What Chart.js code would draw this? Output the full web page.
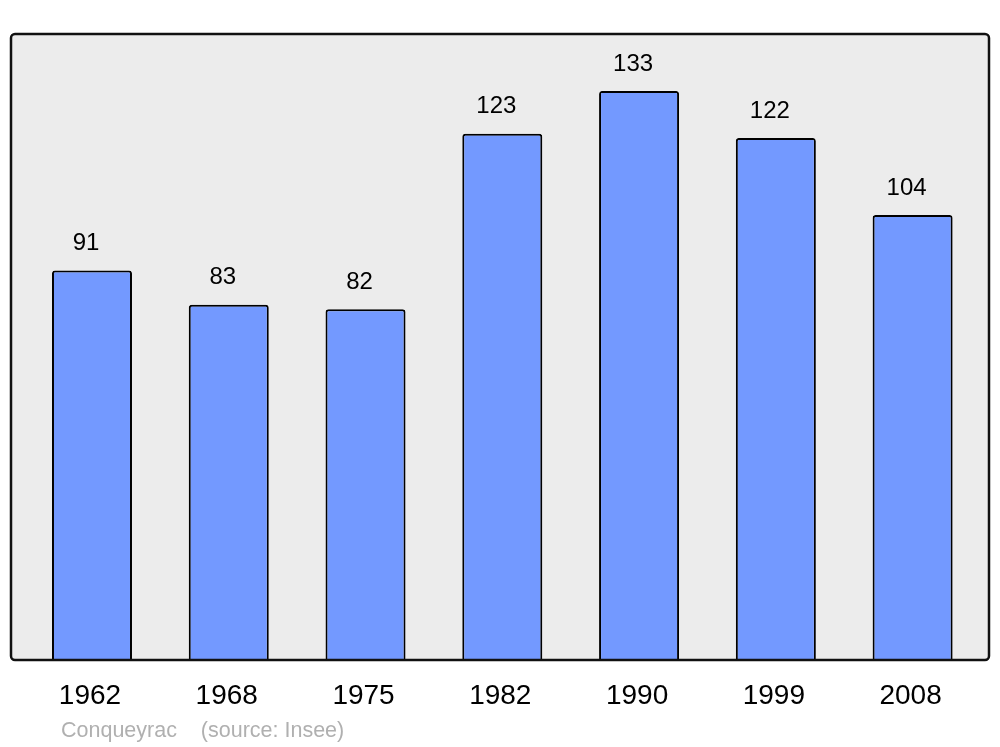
<!DOCTYPE html>
<html>
<head>
<meta charset="utf-8">
<script src="https://cdn.jsdelivr.net/npm/chart.js@4"></script>
<style>
  html, body { margin: 0; padding: 0; background: #fff; }
  #wrap { width: 1000px; height: 747px; }
</style>
</head>
<body>
<div id="wrap"><canvas id="popChart" width="1000" height="747"></canvas></div>
<script>
// ===== Data =====
const years = ["1962", "1968", "1975", "1982", "1990", "1999", "2008"];
const population = [91, 83, 82, 123, 133, 122, 104];
const sourceText = "Conqueyrac    (source: Insee)";

const FONT = "'Liberation Sans', Arial, sans-serif";

// ===== Frame + labels plugin =====
const framePlugin = {
  id: "frame",
  beforeDatasetsDraw(chart) {
    const { ctx, chartArea: a } = chart;
    ctx.save();
    ctx.beginPath();
    ctx.roundRect(a.left - 12.6, a.top, a.right - a.left + 20.6, a.bottom - a.top, 4);
    ctx.fillStyle = "#ececec";
    ctx.fill();
    ctx.restore();
  },
  afterDatasetsDraw(chart) {
    const { ctx, chartArea: a, scales } = chart;
    ctx.save();
    ctx.beginPath();
    ctx.roundRect(a.left - 12.6, a.top, a.right - a.left + 20.6, a.bottom - a.top, 4);
    ctx.lineWidth = 2.5;
    ctx.strokeStyle = "#111";
    ctx.stroke();

    ctx.fillStyle = "#000";
    ctx.textAlign = "center";
    ctx.textBaseline = "middle";

    // value labels above bars
    ctx.font = "24px " + FONT;
    population.forEach((v, i) => {
      const x = scales.x.getPixelForValue(i);
      const y = scales.y.getPixelForValue(v);
      ctx.fillText(String(v), x - 6, y - 27);
    });

    // year labels
    ctx.font = "28px " + FONT;
    years.forEach((yr, i) => {
      ctx.fillText(yr, scales.x.getPixelForValue(i) - 2, a.bottom + 36);
    });

    // source line
    ctx.font = "21.5px " + FONT;
    ctx.fillStyle = "#b0b0b0";
    ctx.textAlign = "left";
    ctx.fillText(sourceText, 61, a.bottom + 71);
    ctx.restore();
  },
};

// ===== Chart =====
new Chart(document.getElementById("popChart").getContext("2d"), {
  type: "bar",
  data: {
    labels: years,
    datasets: [{
      data: population,
      backgroundColor: "#7399ff",
      borderColor: "#000",
      borderWidth: 2,
      borderRadius: 3,
      categoryPercentage: 1,
      barPercentage: 0.585,
    }],
  },
  options: {
    responsive: false,
    animation: false,
    layout: { padding: { left: 23.6, right: 19, top: 34, bottom: 87 } },
    plugins: { legend: { display: false }, tooltip: { enabled: false } },
    scales: {
      x: { display: false },
      y: { display: false, min: 0, max: 146.3 },
    },
  },
  plugins: [framePlugin],
});
</script>
</body>
</html>
